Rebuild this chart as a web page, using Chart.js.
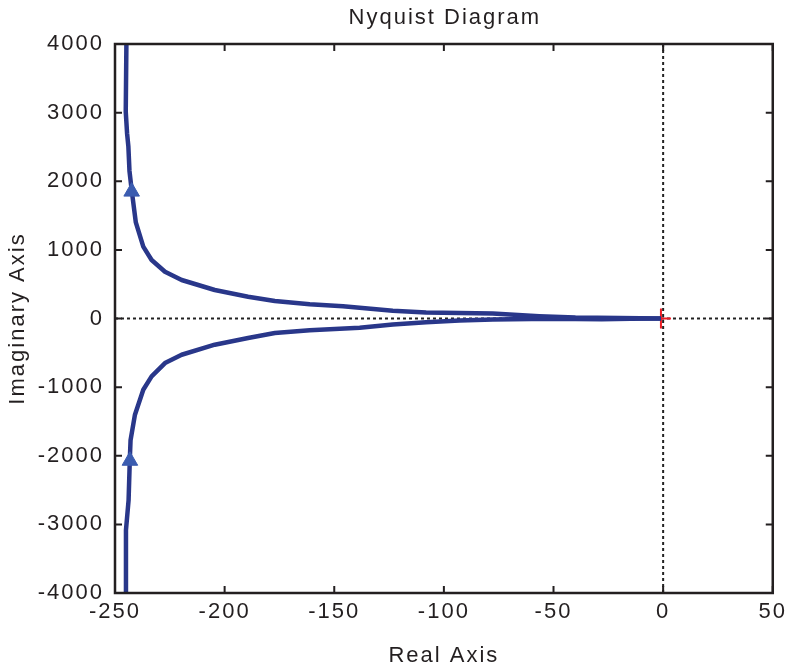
<!DOCTYPE html>
<html>
<head>
<meta charset="utf-8">
<script src="https://cdn.jsdelivr.net/npm/chart.js@4.4.0/dist/chart.umd.min.js"></script>
<style>
  body { margin: 0; background: #fff; }
  canvas { display: block; }
</style>
</head>
<body>
<canvas id="grafico" width="791" height="672"></canvas>
<script>
// Rama superior (frecuencias positivas)
const upperRe = [-244.8, -245.1, -244.5, -243.9, -243.4, -242.4, -240.5, -237.1, -233.3, -227.2, -219.6, -204.5, -189.3, -177.1, -161.2, -146, -123.3, -108.1, -77.7, -56.5, -40, -20, -1];
const upperIm = [4000, 3016, 2700, 2505, 2150, 1873, 1400, 1047, 853, 682, 561, 415, 318, 255, 209, 180, 112, 87, 73, 34, 15, 8, 0];

// Rama inferior (frecuencias negativas)
const lowerRe = [-245, -245, -243.8, -243.2, -242.9, -240.9, -237.1, -233.3, -227.2, -219.6, -204.5, -189.3, -177.1, -161.2, -138.4, -123.3, -108.1, -92.9, -77.7, -60, -40, -28, -15, -1];
const lowerIm = [-4000, -3084, -2646, -2015, -1771, -1402, -1038, -843, -649, -528, -382, -284, -211, -170, -136, -87, -54, -29, -15, -8, -6, -12, -5, 0];

// Flechas de dirección
const arrowRe = [-242.4, -243.2];
const arrowIm = [1849, -2073];

// Punto crítico
const critRe = [-1];
const critIm = [0];

// Ticks
const xTickValues = [-250, -200, -150, -100, -50, 0, 50];
const yTickValues = [-4000, -3000, -2000, -1000, 0, 1000, 2000, 3000, 4000];

const toPts = (xs, ys) => xs.map((v, i) => ({ x: v, y: ys[i] }));

const fuente = "'Liberation Sans', Arial, Helvetica, sans-serif";
const colorTexto = '#231f20';
const tamTexto = 22;

// Marco con ticks hacia adentro y título sobre el área del gráfico
const marco = {
    id: 'marco',
    beforeDraw(chart) {
        chart.ctx.letterSpacing = '2px';
    },
    afterDatasetsDraw(chart) {
        const { ctx, chartArea: a, scales: { x, y } } = chart;
        ctx.save();
        ctx.strokeStyle = colorTexto;
        ctx.lineWidth = 2.5;
        ctx.strokeRect(a.left, a.top, a.right - a.left, a.bottom - a.top);
        ctx.lineWidth = 2;
        ctx.beginPath();
        xTickValues.forEach(v => {
            const px = x.getPixelForValue(v);
            ctx.moveTo(px, a.bottom); ctx.lineTo(px, a.bottom - 7);
            ctx.moveTo(px, a.top); ctx.lineTo(px, a.top + 7);
        });
        yTickValues.forEach(v => {
            const py = y.getPixelForValue(v);
            ctx.moveTo(a.left, py); ctx.lineTo(a.left + 7, py);
            ctx.moveTo(a.right, py); ctx.lineTo(a.right - 7, py);
        });
        ctx.stroke();
        ctx.restore();
    },
    afterDraw(chart) {
        const { ctx, chartArea: a } = chart;
        ctx.save();
        ctx.fillStyle = colorTexto;
        ctx.font = `${tamTexto}px ${fuente}`;
        ctx.textAlign = 'center';
        ctx.textBaseline = 'middle';
        ctx.fillText('Nyquist Diagram', (a.left + a.right) / 2 + 1, 18);
        ctx.restore();
    }
};

let chart;
function initGrafico() {
    const ctx = document.getElementById('grafico').getContext('2d');
    chart = new Chart(ctx, {
        type: 'scatter',
        data: {
            datasets: [
                {
                    data: toPts(arrowRe, arrowIm),
                    pointStyle: 'triangle',
                    pointRadius: 9,
                    backgroundColor: '#3b5cb0',
                    borderColor: '#3b5cb0',
                    borderWidth: 1,
                    showLine: false,
                    order: 0
                },
                {
                    data: toPts(upperRe, upperIm),
                    showLine: true,
                    borderColor: '#29378a',
                    borderWidth: 4.5,
                    borderJoinStyle: 'round',
                    pointRadius: 0,
                    tension: 0,
                    order: 1
                },
                {
                    data: toPts(lowerRe, lowerIm),
                    showLine: true,
                    borderColor: '#29378a',
                    borderWidth: 4.5,
                    borderJoinStyle: 'round',
                    pointRadius: 0,
                    tension: 0,
                    order: 1
                },
                {
                    data: toPts(critRe, critIm),
                    pointStyle: 'cross',
                    pointRadius: 10,
                    borderColor: '#ed1c24',
                    borderWidth: 2,
                    showLine: false,
                    order: 2
                },
                {
                    // eje real punteado
                    data: [{ x: -250, y: 0 }, { x: 50, y: 0 }],
                    showLine: true,
                    borderColor: '#222',
                    borderWidth: 2,
                    borderDash: [3, 3],
                    pointRadius: 0,
                    order: 3
                },
                {
                    // eje imaginario punteado
                    data: [{ x: 0, y: -4000 }, { x: 0, y: 4000 }],
                    showLine: true,
                    borderColor: '#222',
                    borderWidth: 2,
                    borderDash: [3, 3],
                    pointRadius: 0,
                    order: 3
                }
            ]
        },
        options: {
            responsive: false,
            animation: false,
            layout: { padding: { top: 44, right: 17, left: 0, bottom: 0 } },
            plugins: { legend: { display: false }, tooltip: { enabled: false }, title: { display: false } },
            scales: {
                x: {
                    type: 'linear',
                    min: -250,
                    max: 50,
                    afterBuildTicks: s => { s.ticks = xTickValues.map(v => ({ value: v })); },
                    afterFit: s => { s.height = 79; },
                    grid: { display: false, drawTicks: false },
                    border: { display: false },
                    ticks: { color: colorTexto, font: { family: fuente, size: tamTexto }, padding: 6, maxRotation: 0, callback: v => String(v) },
                    title: { display: true, text: 'Real Axis', color: colorTexto, font: { family: fuente, size: tamTexto }, padding: { top: 0, bottom: 3 } }
                },
                y: {
                    type: 'linear',
                    min: -4000,
                    max: 4000,
                    afterBuildTicks: s => { s.ticks = yTickValues.map(v => ({ value: v })); },
                    afterFit: s => { s.width = 115; },
                    grid: { display: false, drawTicks: false },
                    border: { display: false },
                    ticks: { color: colorTexto, font: { family: fuente, size: tamTexto }, padding: 11, callback: v => String(v) },
                    title: { display: true, text: 'Imaginary Axis', color: colorTexto, font: { family: fuente, size: tamTexto }, padding: { top: 5, bottom: 0 } }
                }
            }
        },
        plugins: [marco]
    });
}

window.onload = function() {
    initGrafico();
};
</script>
</body>
</html>
